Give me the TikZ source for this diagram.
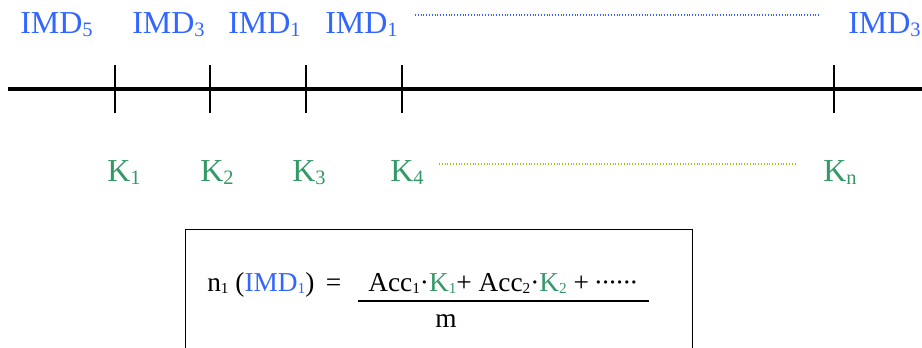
\documentclass[tikz,border=0pt]{standalone}
\usepackage{fontspec}
\setmainfont{Liberation Serif}
\usetikzlibrary{calc}
\definecolor{imdblue}{HTML}{3366FF}
\definecolor{kgreen}{HTML}{339966}
\definecolor{dotlime}{HTML}{99CC00}
\newcommand{\idx}[1]{\raisebox{-0.12em}{\scalebox{0.64}{#1}}}
\newcommand{\fidx}[1]{\raisebox{-0.1em}{\scalebox{0.56}{#1}}}
\tikzset{
  imd/.style={anchor=base west, inner sep=0pt, text=imdblue, font=\fontsize{24}{29}\selectfont},
  klab/.style={anchor=base west, inner sep=0pt, text=kgreen, font=\fontsize{24}{29}\selectfont},
  formula/.style={anchor=base west, inner sep=0pt, font=\fontsize{20.5}{24}\selectfont},
  fbox/.style={draw, line width=1.1pt, anchor=north west, inner sep=0pt},
  axisline/.style={line width=3.5pt},
  tickmark/.style={line width=1.2pt},
  fracbar/.style={line width=1.1pt},
  dotsblue/.style={imdblue, line width=0.8pt, dash pattern=on 0.5pt off 1.6pt},
  dotslime/.style={dotlime, line width=0.9pt, dash pattern=on 0.5pt off 1.6pt},
}

\begin{document}
\begin{tikzpicture}[x=0.75pt, y=-0.75pt]
\useasboundingbox (0,0) rectangle (922,347);
\clip (0,0) rectangle (922,347);

% interval labels
\node[imd] (imd5) at (20,33) {IMD\idx{5}};
\node[imd] (imd3) at (132,33) {IMD\idx{3}};
\node[imd] (imd1a) at (228,33) {IMD\idx{1}};
\node[imd] (imd1b) at (325,33) {IMD\idx{1}};
\node[imd] (imd3n) at (848,33) {IMD\idx{3}};
\coordinate (bdotL) at (415,15);
\coordinate (bdotR) at (820,15);
\draw[dotsblue] (bdotL) -- (bdotR);

% time axis
\coordinate (axL) at (8,89);
\coordinate (axR) at (922,89);
\draw[axisline] (axL) -- (axR);
\foreach \tx/\tn in {115/t1, 210/t2, 306/t3, 402/t4, 834/tn} {
  \coordinate (\tn top) at (\tx,65);
  \coordinate (\tn bot) at (\tx,113);
  \draw[tickmark] (\tn top) -- (\tn bot);
}

% K labels
\node[klab] (k1) at (107,181) {K\idx{1}};
\node[klab] (k2) at (200,181) {K\idx{2}};
\node[klab] (k3) at (292,181) {K\idx{3}};
\node[klab] (k4) at (390,181) {K\idx{4}};
\node[klab] (kn) at (823,181) {K\idx{n}};
\coordinate (gdotL) at (439,164);
\coordinate (gdotR) at (797,164);
\draw[dotslime] (gdotL) -- (gdotR);

% formula box
\node[fbox, minimum width=380pt, minimum height=120pt] (box) at (185,229) {};
\node[formula] (lhs) at (207,291) {n\fidx{1} (\textcolor{imdblue}{IMD\fidx{1}}) \,=};
\node[formula] (num) at (368,291) {Acc\fidx{1}·\textcolor{kgreen}{K\fidx{1}}+ Acc\fidx{2}·\textcolor{kgreen}{K\fidx{2}} + \kern-1.5pt·\kern-1.5pt·\kern-1.5pt·\kern-1.5pt·\kern-1.5pt·\kern-1.5pt·};
\node[formula] (den) at (435,327) {m};
\draw[fracbar] ($(num.base west)+(-10,10)$) -- ($(num.base east)+(10,10)$);
\end{tikzpicture}
\end{document}
